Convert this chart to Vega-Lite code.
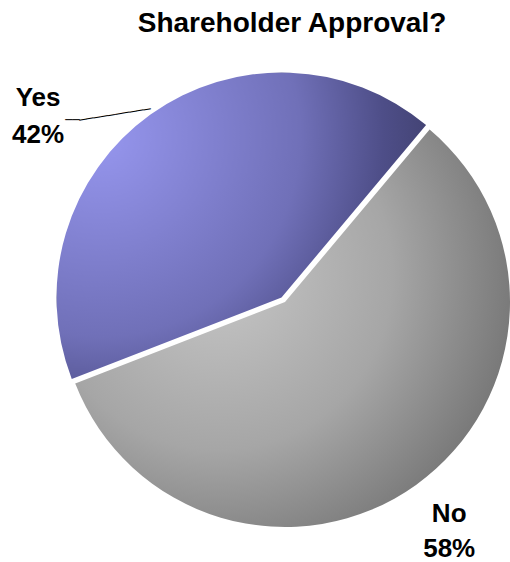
{
  "$schema": "https://vega.github.io/schema/vega-lite/v6.json",
  "width": 450,
  "height": 450,
  "autosize": {"type": "none"},
  "padding": {"left": 60, "top": 77, "right": 0, "bottom": 35},
  "background": "white",
  "title": {"text": "Shareholder Approval?", "font": "Liberation Sans", "fontSize": 28, "fontWeight": "bold", "color": "#000000", "offset": 35, "dx": 7},
  "data": {"values": [{"answer": "No", "value": 58}, {"answer": "Yes", "value": 42}]},
  "transform": [
    {"stack": "value", "groupby": [], "sort": [{"field": "answer", "order": "ascending"}], "as": ["v0", "v1"]},
    {"calculate": "(datum.v0 + datum.v1) / 2", "as": "mid"},
    {"calculate": "datum.answer + '\\n' + datum.value + '%'", "as": "label"}
  ],
  "layer": [
    {
      "transform": [{"filter": "datum.answer === 'No'"}],
      "mark": {"type": "arc", "outerRadius": 225, "fill": {"gradient": "radial", "x1": 0.33, "y1": 0.38, "r1": 0, "x2": 0.33, "y2": 0.38, "r2": 0.8,
        "stops": [{"offset": 0, "color": "#c6c6c6"}, {"offset": 0.5, "color": "#a6a6a6"}, {"offset": 1, "color": "#666666"}]}},
      "encoding": {
        "theta": {"field": "v0", "type": "quantitative", "scale": {"domain": [0, 100], "range": [0.698, 6.981]}},
        "theta2": {"field": "v1"}
      }
    },
    {
      "transform": [{"filter": "datum.answer === 'Yes'"}],
      "mark": {"type": "arc", "outerRadius": 225, "xOffset": -3.5, "yOffset": -4.5, "fill": {"gradient": "radial", "x1": 0.12, "y1": 0.26, "r1": 0, "x2": 0.12, "y2": 0.26, "r2": 0.9,
        "stops": [{"offset": 0, "color": "#9696ee"}, {"offset": 0.6, "color": "#7070b8"}, {"offset": 0.85, "color": "#4e4e88"}, {"offset": 1, "color": "#424272"}]}},
      "encoding": {
        "theta": {"field": "v0", "type": "quantitative"},
        "theta2": {"field": "v1"}
      }
    },
    {
      "transform": [{"filter": "datum.answer === 'Yes'"}],
      "mark": {"type": "text", "radius": 230, "dx": -113, "dy": -17, "align": "center", "baseline": "middle", "lineBreak": "\n", "lineHeight": 37, "font": "Liberation Sans", "fontSize": 26, "fontWeight": "bold", "color": "#000000"},
      "encoding": {
        "theta": {"field": "mid", "type": "quantitative"},
        "text": {"field": "label"}
      }
    },
    {
      "transform": [{"filter": "datum.answer === 'No'"}],
      "mark": {"type": "text", "radius": 282, "dx": 0, "dy": -17, "align": "center", "baseline": "middle", "lineBreak": "\n", "lineHeight": 35, "font": "Liberation Sans", "fontSize": 26, "fontWeight": "bold", "color": "#000000"},
      "encoding": {
        "theta": {"field": "mid", "type": "quantitative"},
        "text": {"field": "label"}
      }
    },
    {
      "transform": [{"filter": "datum.answer === 'Yes'"}],
      "mark": {"type": "text", "radius": 230, "angle": -9, "dx": -35.5, "dy": -6.1, "align": "center", "baseline": "middle", "font": "DejaVu Sans", "fontSize": 12, "color": "#000000", "text": "──────────"},
      "encoding": {
        "theta": {"field": "mid", "type": "quantitative"}
      }
    },
    {
      "transform": [{"filter": "datum.answer === 'Yes'"}],
      "mark": {"type": "text", "radius": 230, "dx": -78.6, "dy": 5, "align": "center", "baseline": "middle", "font": "DejaVu Sans", "fontSize": 12, "color": "#000000", "text": "──"},
      "encoding": {
        "theta": {"field": "mid", "type": "quantitative"}
      }
    }
  ],
  "config": {"view": {"stroke": null}}
}
